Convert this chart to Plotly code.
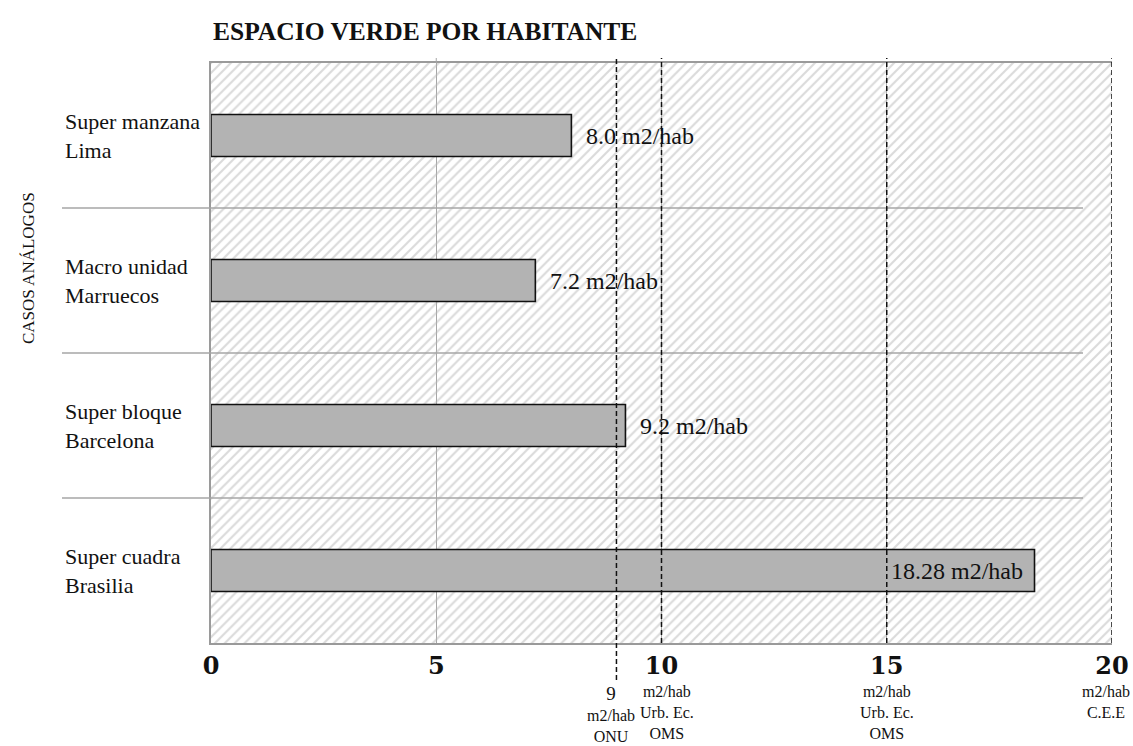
import plotly.graph_objects as go

# ---- data ----
categories = ["Super manzana\nLima", "Macro unidad\nMarruecos", "Super bloque\nBarcelona", "Super cuadra\nBrasilia"]
values = [8.0, 7.2, 9.2, 18.28]
unit = "m2/hab"
x_ticks = [0, 5, 10, 15, 20]
ref_values = [9, 10, 15, 20]
ref_labels = ["<span style='font-size:19px'>9</span><br>m2/hab<br>ONU",
              "m2/hab<br>Urb. Ec.<br>OMS",
              "m2/hab<br>Urb. Ec.<br>OMS",
              "m2/hab<br>C.E.E"]
title = "ESPACIO VERDE POR HABITANTE"
y_title = "CASOS ANÁLOGOS"

SERIF = "Liberation Serif"
W, H = 1133, 746
PL, PR, PT, PB = 211, 1112, 63, 643   # plot box in page pixels
ML, MT = PL, PT
PW, PH = PR - PL, PB - PT
MR, MB = W - ML - PW, H - MT - PH

n = len(categories)
ypos = list(range(n))
labels = [f"{v} {unit}" for v in values]

fig = go.Figure()

# hatched plot background (a full-size patterned bar drawn beneath the data bars)
fig.add_trace(go.Bar(
    x=[x_ticks[-1]], y=[(n - 1) / 2], width=n, orientation="h", base=x_ticks[0],
    marker=dict(color="rgba(0,0,0,0)", line=dict(width=0),
                pattern=dict(shape="/", fgcolor="#b5b5b5", bgcolor="rgba(0,0,0,0)",
                             size=7, solidity=0.3, fillmode="overlay")),
    hoverinfo="skip", showlegend=False))

fig.add_trace(go.Bar(
    x=values, y=ypos, orientation="h", width=0.29,
    marker=dict(color="#b3b3b3", line=dict(color="#111111", width=1.6)),
    hoverinfo="x+y", showlegend=False))

shapes = []
# category separators (extend into label area)
for i in range(n - 1):
    shapes.append(dict(type="line", xref="paper", yref="y",
                       x0=(62 - PL) / PW, x1=(1083 - PL) / PW, y0=i + 0.5, y1=i + 0.5,
                       line=dict(color="#a6a6a6", width=1.5), layer="above"))
# small overshoot of the plain gridlines above the plot
for t in x_ticks:
    if t != x_ticks[0] and t not in ref_values:
        shapes.append(dict(type="line", xref="x", yref="paper", x0=t, x1=t,
                           y0=1, y1=1 + 5 / PH, line=dict(color="#a6a6a6", width=1), layer="above"))
# reference dashed lines
for v in ref_values:
    shapes.append(dict(type="line", xref="x", yref="paper", x0=v, x1=v,
                       y0=(-37 / PH) if v == ref_values[0] else 0, y1=1 + 5 / PH,
                       line=dict(color="#111111", width=1.5, dash="5px,3px"), layer="above"))

annotations = []
# value labels
for i, (v, t) in enumerate(zip(values, labels)):
    inside = v > 15
    annotations.append(dict(xref="x", yref="y", x=v, y=i,
                            xanchor="right" if inside else "left",
                            xshift=-10 if inside else 13,
                            yanchor="middle", text=t, showarrow=False,
                            font=dict(family=SERIF, size=24, color="#111111")))
# category labels
for i, c in enumerate(categories):
    annotations.append(dict(xref="paper", yref="y", x=(63 - PL) / PW, y=i,
                            xanchor="left", yanchor="middle", align="left",
                            text=c.replace("\n", "<br>"), showarrow=False,
                            font=dict(family=SERIF, size=22, color="#111111")))
# reference line labels
for k, (v, t) in enumerate(zip(ref_values, ref_labels)):
    last = k == len(ref_values) - 1
    shift = 20 if last else (-5 if k == 0 else (5 if k == 1 else 0))
    annotations.append(dict(xref="x", yref="paper", x=v, y=-38 / PH,
                            xanchor="right" if last else "center", xshift=shift,
                            yanchor="top", align="center", text=t, showarrow=False,
                            font=dict(family=SERIF, size=16, color="#111111")))
annotations.append(dict(xref="paper", yref="paper", x=(28 - PL) / PW, y=(PB - 268) / PH,
                        xanchor="center", yanchor="middle", textangle=-90,
                        text=y_title, showarrow=False,
                        font=dict(family=SERIF, size=17, color="#111111")))

fig.update_layout(
    width=W, height=H,
    margin=dict(l=ML, r=MR, t=MT, b=MB, autoexpand=False),
    paper_bgcolor="white", plot_bgcolor="white",
    barmode="overlay",
    title=dict(text=title, x=213 / W, xanchor="left", y=1 - 31 / H, yanchor="middle",
               font=dict(family=SERIF, size=25.5, color="#111111", weight="bold")),
    xaxis=dict(range=[x_ticks[0], x_ticks[-1]], tickvals=x_ticks, ticks="", automargin=False,
               tickfont=dict(family="DejaVu Serif", size=24, color="#111111", weight="bold"),
               showgrid=True, gridcolor="#a6a6a6", gridwidth=1, zeroline=False,
               showline=True, linecolor="#9a9a9a", linewidth=1.5, mirror=True),
    yaxis=dict(range=[n - 0.5, -0.5], showticklabels=False, ticks="", automargin=False,
               showgrid=False, zeroline=False,
               showline=True, linecolor="#9a9a9a", linewidth=1.5, mirror=False),
    shapes=shapes, annotations=annotations,
    showlegend=False,
)

fig.write_html("out.html", config={"displayModeBar": False},
               post_script="document.body.style.margin='0px';document.body.style.overflow='hidden';")
